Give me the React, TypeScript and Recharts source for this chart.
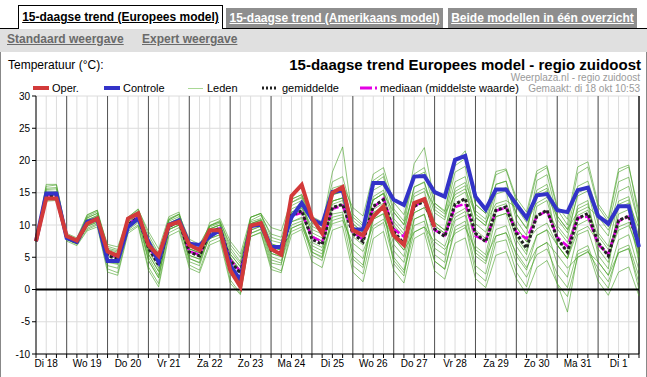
import React from 'react';
import { LineChart, Line, XAxis, YAxis, CartesianGrid, ReferenceLine } from 'recharts';

// 6-uurlijkse stappen vanaf di 18 06:00 (index 0) t/m wo 2 00:00 (index 59)
const dagen = ['Di 18', 'Wo 19', 'Do 20', 'Vr 21', 'Za 22', 'Zo 23', 'Ma 24', 'Di 25', 'Wo 26', 'Do 27', 'Vr 28', 'Za 29', 'Zo 30', 'Ma 31', 'Di 1'];
const yTicks = [-10, -5, 0, 5, 10, 15, 20, 25, 30];

const oper = [
  7.5, 14.1, 14.1, 8.3, 7.6, 10.2, 11.0, 5.9, 5.2, 11.0,
  11.8, 6.9, 5.2, 10.0, 10.5, 6.9, 6.1, 9.2, 9.2, 3.0,
  0.4, 9.9, 10.3, 6.3, 5.4, 14.5, 16.2, 11.1, 8.7, 15.0,
  15.9, 9.2, 8.4, 11.3, 12.9, 8.4, 6.9, 13.4, 14.0, 9.7,
];

const controle = [
  7.5, 14.9, 14.9, 8.0, 7.4, 10.5, 10.9, 4.4, 4.4, 9.7,
  11.0, 7.4, 4.3, 10.0, 10.7, 7.1, 6.9, 8.2, 9.2, 3.8,
  1.4, 9.8, 10.1, 6.6, 6.6, 11.2, 13.4, 10.9, 10.1, 15.1,
  15.4, 9.3, 9.3, 16.5, 16.5, 13.9, 13.1, 17.5, 17.6, 15.1,
  14.4, 20.1, 20.7, 14.4, 12.4, 15.5, 15.5, 13.2, 11.1, 14.6,
  14.8, 12.3, 12.0, 15.4, 15.8, 11.4, 10.2, 12.9, 12.9, 6.6,
];

const gemiddelde = [
  7.5, 14.5, 14.5, 8.0, 7.3, 10.3, 11.0, 5.2, 4.8, 10.0,
  11.2, 6.5, 3.8, 9.8, 10.5, 5.8, 5.2, 8.9, 9.5, 4.5,
  2.5, 9.7, 10.3, 6.1, 5.6, 11.5, 12.2, 7.8, 7.0, 12.7,
  13.2, 8.7, 7.4, 12.9, 13.9, 9.0, 7.1, 12.9, 13.7, 9.4,
  8.2, 13.2, 14.1, 8.7, 7.4, 12.3, 12.8, 8.7, 6.4, 11.4,
  12.3, 7.9, 5.8, 11.0, 11.8, 7.3, 5.2, 10.7, 11.4, 7.0,
];

const mediaan = [
  7.5, 14.6, 14.6, 8.0, 7.3, 10.4, 11.0, 5.5, 5.0, 10.1,
  11.3, 6.7, 4.1, 9.9, 10.5, 5.9, 5.4, 9.0, 9.5, 4.6,
  2.8, 9.8, 10.3, 6.3, 5.8, 11.4, 11.9, 8.2, 7.4, 12.5,
  13.0, 8.9, 7.7, 12.7, 14.1, 9.4, 8.2, 12.8, 14.0, 9.2,
  8.4, 12.8, 13.3, 8.3, 7.5, 12.2, 12.7, 8.9, 7.9, 11.3,
  12.2, 8.1, 6.7, 11.1, 11.3, 7.0, 5.5, 10.6, 11.3, 7.2,
];

const leden = [
  [7.5, 16.0, 16.2, 8.5, 7.6, 11.3, 12.1, 6.4, 6.0, 11.0, 12.0, 8.0, 5.3, 10.8, 11.7, 7.3, 6.8, 9.9, 10.7, 6.5, 4.3, 10.7, 11.5, 8.6, 8.1, 13.5, 14.4, 10.8, 10.0, 16.7, 17.5, 11.7, 10.2, 16.9, 18.0, 12.5, 10.6, 19.5, 22.0, 13.4, 12.0, 19.7, 21.5, 13.2, 11.8, 17.8, 18.5, 13.7, 11.3, 17.9, 18.9, 12.4, 10.0, 18.0, 19.0, 12.8, 10.5, 18.2, 19.0, 12.0],
  [7.5, 14.0, 14.1, 7.7, 7.0, 9.3, 10.0, 3.2, 2.6, 9.0, 10.0, 3.5, 0.9, 8.8, 9.6, 3.8, 3.0, 7.4, 8.1, 1.5, -0.6, 8.2, 8.9, 3.6, 2.9, 8.5, 9.3, 4.3, 3.4, 9.2, 9.8, 2.7, 1.2, 7.9, 9.0, 3.0, 1.0, 7.9, 8.8, 2.9, 1.6, 7.2, 8.0, 1.7, 0.3, 5.3, 5.9, 1.7, -0.7, 3.4, 4.5, 0.9, -3.5, 5.5, 6.2, 1.3, -0.9, 2.7, 3.5, -1.0],
  [7.5, 14.8, 15.0, 8.2, 7.5, 10.8, 11.4, 5.7, 5.4, 10.5, 11.6, 7.5, 4.9, 10.3, 11.0, 6.8, 6.1, 9.4, 10.0, 5.5, 3.6, 10.5, 11.0, 7.6, 7.2, 13.0, 13.8, 8.8, 8.0, 14.7, 15.1, 10.2, 8.9, 15.4, 16.3, 11.0, 9.2, 15.9, 16.6, 11.9, 10.8, 16.7, 17.5, 11.2, 9.9, 15.3, 15.8, 11.7, 9.5, 14.9, 15.7, 9.9, 7.9, 15.0, 15.7, 10.3, 8.3, 15.2, 16.0, 10.0],
  [7.5, 14.2, 14.3, 8.0, 7.2, 9.8, 10.4, 4.2, 3.9, 9.5, 10.6, 5.0, 2.2, 9.3, 10.0, 4.8, 4.1, 8.4, 8.9, 3.0, 1.0, 9.2, 9.8, 5.1, 4.5, 10.0, 10.6, 5.8, 5.1, 11.2, 11.6, 6.2, 4.8, 10.9, 11.8, 6.0, 4.2, 10.9, 11.6, 6.4, 5.3, 10.7, 11.5, 5.2, 4.0, 9.3, 9.9, 5.2, 3.0, 8.4, 9.2, 3.9, 1.9, 8.5, 9.2, 4.3, 2.2, 7.7, 8.5, 3.0],
  [7.5, 15.5, 15.6, 8.4, 7.7, 11.5, 12.3, 6.7, 6.2, 11.2, 12.5, 8.5, 5.6, 10.8, 11.6, 7.8, 7.0, 9.9, 10.5, 7.0, 5.0, 10.2, 10.7, 7.1, 6.5, 10.5, 11.0, 5.8, 4.9, 11.7, 12.0, 5.2, 3.8, 10.9, 11.7, 5.0, 3.0, 9.9, 10.6, 4.4, 3.1, 9.2, 10.0, 2.7, 1.3, 7.3, 7.7, 2.7, 0.4, 6.4, 7.3, 0.9, -1.1, 5.0, 5.9, 3.3, 1.2, 5.7, 6.3, 1.0],
  [7.5, 13.7, 13.8, 7.5, 6.8, 9.1, 9.7, 2.7, 2.2, 8.7, 9.8, 3.0, 0.4, 8.3, 9.1, 3.3, 2.6, 6.9, 7.6, 1.0, -0.8, 8.7, 9.4, 4.1, 3.8, 12.0, 12.6, 9.3, 8.6, 14.7, 15.3, 10.2, 8.8, 16.4, 17.5, 12.0, 10.0, 17.9, 18.9, 13.4, 12.2, 19.2, 20.3, 13.2, 11.8, 18.3, 18.7, 14.2, 12.0, 18.4, 19.2, 12.9, 10.9, 19.0, 19.8, 13.3, 11.0, 18.7, 19.3, 11.0],
  [7.5, 15.1, 15.0, 8.3, 7.6, 10.3, 11.0, 5.7, 5.3, 11.0, 12.2, 7.0, 4.3, 9.8, 10.5, 5.8, 5.2, 9.4, 10.0, 5.0, 3.0, 9.7, 10.3, 5.6, 5.1, 12.5, 13.2, 8.3, 7.5, 13.2, 13.8, 9.7, 8.4, 13.9, 14.9, 9.0, 7.1, 14.4, 15.2, 9.9, 8.7, 14.2, 15.1, 10.2, 8.9, 12.8, 13.3, 9.7, 7.4, 11.4, 12.3, 9.4, 7.3, 11.5, 12.3, 8.3, 6.2, 10.7, 11.4, 8.0],
  [7.5, 14.3, 14.2, 8.2, 7.5, 11.1, 11.8, 4.7, 4.3, 10.0, 11.2, 5.5, 2.8, 10.3, 11.0, 6.3, 5.7, 9.9, 10.5, 4.5, 2.5, 11.2, 11.8, 8.1, 7.6, 12.0, 12.7, 9.8, 9.0, 13.7, 14.2, 11.2, 9.9, 13.9, 14.9, 12.0, 10.1, 14.9, 15.7, 12.9, 11.7, 14.7, 15.6, 11.7, 10.4, 13.3, 13.8, 12.7, 10.4, 13.4, 14.3, 11.4, 9.3, 12.0, 12.8, 11.3, 9.2, 12.7, 13.4, 9.5],
  [7.5, 15.3, 15.2, 8.5, 7.8, 10.8, 11.5, 6.2, 5.8, 10.0, 11.2, 6.0, 3.3, 9.3, 10.0, 6.8, 6.2, 7.9, 8.5, 5.0, 3.0, 9.2, 9.8, 4.6, 4.1, 9.5, 10.2, 6.8, 6.0, 10.2, 10.7, 7.2, 5.9, 9.9, 10.9, 8.0, 6.1, 8.9, 9.7, 7.4, 6.2, 8.7, 9.6, 6.2, 4.9, 8.3, 8.8, 5.7, 3.4, 6.4, 7.3, 5.4, 3.3, 5.0, 5.8, 4.3, 2.2, 5.7, 6.4, 0.0],
  [7.5, 14.5, 14.6, 7.8, 7.1, 10.6, 11.3, 6.0, 5.6, 9.7, 10.9, 7.0, 4.3, 10.6, 11.3, 5.8, 5.2, 9.7, 10.3, 6.0, 4.0, 11.2, 11.8, 9.6, 9.1, 14.0, 14.7, 10.8, 10.0, 18.2, 22.1, 10.7, 9.4, 13.9, 14.9, 8.0, 6.1, 12.9, 13.7, 7.9, 6.7, 11.2, 12.1, 5.7, 4.4, 11.3, 11.8, 6.7, 4.4, 8.4, 9.3, 6.9, 4.8, 9.0, 9.8, 7.3, 5.2, 9.7, 10.4, 5.0],
  [7.5, 15.7, 15.8, 8.0, 7.3, 10.0, 10.6, 5.4, 5.0, 10.5, 11.7, 7.5, 4.8, 11.0, 11.7, 5.3, 4.7, 8.9, 9.5, 3.0, 1.0, 10.2, 10.8, 5.6, 5.1, 14.0, 14.7, 11.3, 10.5, 15.7, 16.2, 12.7, 11.4, 17.9, 18.9, 13.5, 11.6, 17.4, 18.2, 12.4, 11.2, 18.2, 19.1, 11.2, 9.9, 16.3, 16.8, 11.7, 9.4, 15.4, 16.3, 10.9, 8.8, 14.5, 15.3, 8.8, 6.7, 13.7, 14.4, 8.0],
  [7.5, 13.9, 14.0, 7.8, 7.1, 9.8, 10.5, 4.4, 4.0, 10.3, 11.5, 4.5, 1.8, 10.1, 10.8, 4.3, 3.7, 8.4, 9.0, 5.5, 3.5, 8.7, 9.3, 6.6, 6.1, 9.0, 9.7, 6.3, 5.5, 13.7, 14.2, 4.7, 3.4, 11.9, 12.9, 4.0, 2.1, 10.9, 11.7, 5.4, 4.2, 13.2, 14.1, 6.7, 5.4, 12.3, 12.8, 7.7, 5.4, 12.9, 13.8, 7.9, 5.8, 13.0, 13.8, 6.3, 4.2, 11.7, 12.4, 4.0],
  [7.5, 14.9, 15.0, 8.4, 7.7, 11.1, 11.8, 7.0, 6.6, 11.2, 12.4, 9.0, 6.3, 11.3, 12.0, 6.3, 5.7, 10.4, 11.0, 7.5, 5.5, 11.2, 11.8, 6.6, 6.1, 13.5, 14.2, 10.3, 9.5, 13.7, 14.2, 9.7, 8.4, 11.9, 12.9, 7.0, 5.1, 11.9, 12.7, 10.4, 9.2, 15.7, 16.6, 12.2, 10.9, 16.3, 16.8, 10.7, 8.4, 16.9, 17.8, 11.4, 9.3, 16.0, 16.8, 11.8, 9.7, 16.7, 17.4, 10.0],
  [7.5, 14.1, 14.1, 8.1, 7.4, 9.5, 10.2, 3.7, 3.3, 9.2, 10.4, 4.5, 1.8, 9.3, 10.0, 5.3, 4.7, 7.9, 8.5, 2.5, 0.5, 8.2, 8.8, 3.1, 2.6, 9.5, 10.2, 5.3, 4.5, 10.7, 11.2, 3.7, 2.4, 9.4, 10.4, 4.5, 2.6, 8.9, 9.7, 4.4, 3.2, 9.7, 10.6, 3.7, 2.4, 8.3, 8.8, 4.2, 1.9, 5.4, 6.3, 2.4, 0.3, 6.0, 6.8, 2.3, 0.2, 6.2, 6.9, 2.0],
  [7.5, 14.7, 14.8, 7.9, 7.2, 10.5, 11.2, 5.2, 4.8, 9.8, 11.0, 7.0, 4.3, 9.6, 10.3, 6.3, 5.7, 8.9, 9.5, 4.5, 2.5, 10.2, 10.8, 6.6, 6.1, 11.5, 12.2, 7.3, 6.5, 12.7, 13.2, 9.2, 7.9, 12.4, 13.4, 10.0, 8.1, 11.9, 12.7, 9.9, 8.7, 11.7, 12.6, 8.7, 7.4, 11.3, 11.8, 9.7, 7.4, 9.4, 10.3, 6.9, 4.8, 10.0, 10.8, 7.3, 5.2, 9.2, 9.9, 6.0],
  [7.5, 16.3, 16.3, 8.7, 8.0, 11.6, 12.3, 5.7, 5.3, 10.8, 12.0, 5.5, 2.8, 9.8, 10.5, 4.8, 4.2, 9.4, 10.0, 2.5, 0.5, 9.7, 10.3, 7.1, 6.6, 10.5, 11.2, 8.3, 7.5, 14.7, 15.2, 8.2, 6.9, 14.4, 15.4, 10.5, 8.6, 15.9, 16.7, 10.4, 9.2, 15.2, 16.1, 9.2, 7.9, 14.8, 15.3, 8.2, 5.9, 14.4, 15.3, 6.9, 4.8, 12.5, 13.3, 5.3, 3.2, 13.2, 13.9, 5.0],
];

const data = controle.map((c, i) => {
  const row: Record<string, number | null> = {
    i,
    oper: i < oper.length ? oper[i] : null,
    controle: c,
    gemiddelde: gemiddelde[i],
    mediaan: mediaan[i],
  };
  leden.forEach((lid, k) => {
    row['lid' + k] = lid[i];
  });
  return row;
});

const xTicks = data.map((d) => d.i as number);
const dagGrenzen = xTicks.filter((i) => i % 4 === 3);

const FONT = '"Liberation Sans", Arial, sans-serif';

const tabBase: React.CSSProperties = {
  position: 'absolute',
  boxSizing: 'border-box',
  fontSize: 12,
  fontWeight: 'bold',
  textDecoration: 'underline',
  textAlign: 'center',
};

const legendText: React.CSSProperties = {
  position: 'absolute',
  top: 81,
  fontSize: 11,
  lineHeight: '14px',
  color: '#000',
};

export default function App() {
  return (
    <div style={{ position: 'absolute', left: 0, top: 0, width: 647, height: 377, background: '#fff', fontFamily: FONT, overflow: 'hidden' }}>
      {/* tabs */}
      <div style={{ position: 'absolute', left: 0, top: 28, width: 647, height: 1, background: '#000' }} />
      <div style={{ ...tabBase, left: 18, top: 5, width: 205, height: 25, border: '1px solid #000', borderBottom: 'none', background: '#fff', color: '#000', lineHeight: '22px' }}>
        15-daagse trend (Europees model)
      </div>
      <div style={{ ...tabBase, left: 226, top: 8, width: 217, height: 20, background: '#8e8e8e', color: '#fff', lineHeight: '20px' }}>
        15-daagse trend (Amerikaans model)
      </div>
      <div style={{ ...tabBase, left: 448, top: 8, width: 189, height: 20, background: '#8e8e8e', color: '#fff', lineHeight: '20px' }}>
        Beide modellen in één overzicht
      </div>

      {/* sub-navigatie */}
      <div style={{ position: 'absolute', left: 0, top: 29, width: 647, height: 23, background: '#e0e0e0' }}>
        <span style={{ position: 'absolute', left: 7, top: 3, fontSize: 12, fontWeight: 'bold', color: '#6a6a6a', textDecoration: 'underline' }}>Standaard weergave</span>
        <span style={{ position: 'absolute', left: 142, top: 3, fontSize: 12, fontWeight: 'bold', color: '#6a6a6a', textDecoration: 'underline' }}>Expert weergave</span>
      </div>
      <div style={{ position: 'absolute', left: 0, top: 52, width: 1, height: 325, background: '#888' }} />
      <div style={{ position: 'absolute', left: 646, top: 52, width: 1, height: 325, background: '#888' }} />

      <LineChart
        width={647}
        height={377}
        data={data}
        margin={{ top: 96, right: 8, bottom: 3, left: 6 }}
        style={{ position: 'absolute', left: 0, top: 0 }}
      >
        <CartesianGrid stroke="#dcdcdc" />
        <XAxis
          dataKey="i"
          type="number"
          domain={[0, 59]}
          ticks={xTicks}
          interval={0}
          height={20}
          tickSize={4}
          tickMargin={2}
          tickFormatter={(v: number) => (v % 4 === 1 ? dagen[(v - 1) / 4] : '')}
          tick={{ fontSize: 10, fill: '#000', fontFamily: FONT }}
          axisLine={{ stroke: '#000' }}
          tickLine={{ stroke: '#000' }}
        />
        <YAxis
          domain={[-10, 30]}
          ticks={yTicks}
          width={30}
          tickSize={4}
          tick={{ fontSize: 10, fill: '#000', fontFamily: FONT }}
          axisLine={{ stroke: '#000' }}
          tickLine={{ stroke: '#000' }}
        />
        {dagGrenzen.map((x) => (
          <ReferenceLine key={x} x={x} stroke="#555" />
        ))}
        <ReferenceLine x={59} stroke="#000" />

        {leden.map((_, k) => (
          <Line
            key={k}
            dataKey={'lid' + k}
            stroke="#46a024"
            strokeOpacity={0.6}
            strokeWidth={1}
            dot={false}
            activeDot={false}
            isAnimationActive={false}
          />
        ))}
        <ReferenceLine y={0} stroke="#000" strokeWidth={2} />
        <Line dataKey="mediaan" stroke="#e400e4" strokeWidth={2.5} strokeDasharray="8 3" dot={false} activeDot={false} isAnimationActive={false} />
        <Line dataKey="gemiddelde" stroke="#222" strokeWidth={3} strokeDasharray="3 2" dot={false} activeDot={false} isAnimationActive={false} />
        <Line dataKey="controle" stroke="#3333c8" strokeWidth={4} dot={false} activeDot={false} isAnimationActive={false} />
        <Line dataKey="oper" stroke="#d23a3a" strokeWidth={4} dot={false} activeDot={false} isAnimationActive={false} connectNulls={false} />
      </LineChart>

      {/* titels */}
      <div style={{ position: 'absolute', left: 8, top: 58, fontSize: 12, lineHeight: '15px' }}>Temperatuur (°C):</div>
      <div style={{ position: 'absolute', right: 6, top: 57, fontSize: 15, fontWeight: 'bold', lineHeight: '15px' }}>
        15-daagse trend Europees model - regio zuidoost
      </div>
      <div style={{ position: 'absolute', right: 7, top: 72, fontSize: 10, lineHeight: '11px', color: '#9a9a9a' }}>Weerplaza.nl - regio zuidoost</div>
      <div style={{ position: 'absolute', right: 7, top: 83, fontSize: 10, lineHeight: '11px', color: '#9a9a9a' }}>Gemaakt: di 18 okt 10:53</div>

      {/* legenda */}
      <div style={{ position: 'absolute', left: 33, top: 86, width: 16, height: 4, background: '#d23a3a' }} />
      <div style={{ ...legendText, left: 52 }}>Oper.</div>
      <div style={{ position: 'absolute', left: 104, top: 86, width: 16, height: 4, background: '#3333c8' }} />
      <div style={{ ...legendText, left: 123 }}>Controle</div>
      <div style={{ position: 'absolute', left: 188, top: 88, width: 15, height: 1, background: '#a9d895' }} />
      <div style={{ ...legendText, left: 207 }}>Leden</div>
      <svg style={{ position: 'absolute', left: 262, top: 86 }} width={16} height={4}>
        <line x1={0} y1={2} x2={15} y2={2} stroke="#222" strokeWidth={3} strokeDasharray="2 2" />
      </svg>
      <div style={{ ...legendText, left: 282 }}>gemiddelde</div>
      <svg style={{ position: 'absolute', left: 360, top: 86 }} width={18} height={4}>
        <line x1={0} y1={2} x2={17} y2={2} stroke="#e400e4" strokeWidth={3} strokeDasharray="12 3 2 3" />
      </svg>
      <div style={{ ...legendText, left: 380 }}>mediaan (middelste waarde)</div>
    </div>
  );
}
